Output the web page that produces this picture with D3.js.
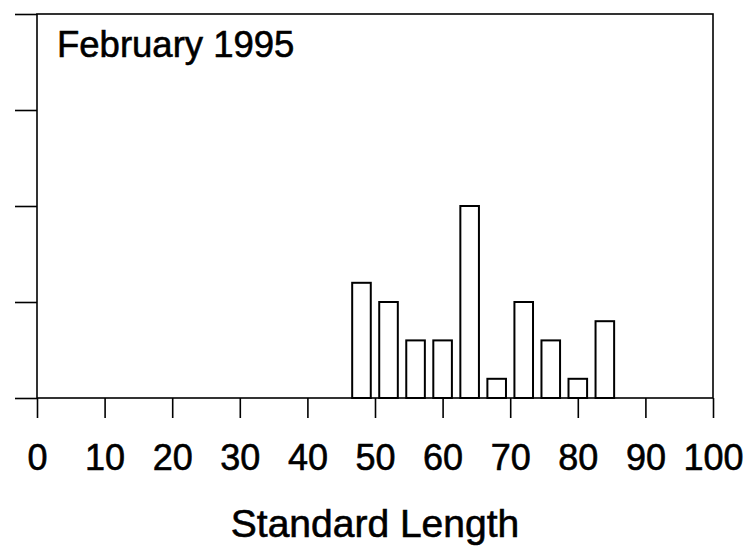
<!DOCTYPE html>
<html>
<head>
<meta charset="utf-8">
<script src="https://cdn.jsdelivr.net/npm/d3@7"></script>
<style>
  html, body { margin: 0; padding: 0; background: #fff; }
  svg { display: block; }
  text { font-family: "Liberation Sans", Arial, sans-serif; fill: #000; stroke: #000; stroke-width: 0.6px; }
</style>
</head>
<body>
<svg id="chart" width="751" height="548"></svg>
<script>
// Length-frequency histogram, February 1995
const lengthBins = [48, 52, 56, 60, 64, 68, 72, 76, 80, 84];
const counts     = [6, 5, 3, 3, 10, 1, 5, 3, 1, 4];
const xTicks     = [0, 10, 20, 30, 40, 50, 60, 70, 80, 90, 100];
const yTicks     = [0, 5, 10, 15, 20];
const title      = "February 1995";
const xTitle     = "Standard Length";

const svg = d3.select("#chart");
const plotL = 37, plotR = 713, plotT = 14, plotB = 398;

const x = d3.scaleLinear().domain([0, 100]).range([plotL, plotR]);
const y = d3.scaleLinear().domain([0, 20]).range([plotB, plotT]);
const barW = x(2.75) - x(0);

// bars
svg.append("g").selectAll("rect")
  .data(lengthBins)
  .join("rect")
  .attr("x", (d) => x(d) - barW / 2)
  .attr("y", (d, i) => y(counts[i]))
  .attr("width", barW)
  .attr("height", (d, i) => y(0) - y(counts[i]))
  .attr("fill", "#fff")
  .attr("stroke", "#000")
  .attr("stroke-width", 2);

// frame
svg.append("rect")
  .attr("x", plotL).attr("y", plotT)
  .attr("width", plotR - plotL).attr("height", plotB - plotT)
  .attr("fill", "none").attr("stroke", "#000").attr("stroke-width", 1.6);

// x axis
const xAxis = svg.append("g")
  .attr("transform", `translate(0,${plotB})`)
  .call(d3.axisBottom(x).tickValues(xTicks).tickSize(20).tickPadding(0).tickSizeOuter(0));
xAxis.select(".domain").remove();
xAxis.selectAll("line").attr("stroke", "#000").attr("stroke-width", 1.6);
xAxis.selectAll("text")
  .attr("y", 72).attr("dy", null)
  .style("font-size", "36px")
  .attr("font-family", "Liberation Sans, Arial, sans-serif")
  .attr("fill", "#000");

// y axis (ticks only, no labels)
const yAxis = svg.append("g")
  .attr("transform", `translate(${plotL},0)`)
  .call(d3.axisLeft(y).tickValues(yTicks).tickSize(22).tickFormat(""));
yAxis.select(".domain").remove();
yAxis.selectAll("line").attr("stroke", "#000").attr("stroke-width", 1.6);

// panel title
svg.append("text")
  .attr("x", 57).attr("y", 57)
  .style("font-size", "36.5px")
  .text(title);

// axis title
svg.append("text")
  .attr("x", x(50)).attr("y", 537)
  .attr("text-anchor", "middle")
  .style("font-size", "39px")
  .text(xTitle);
</script>
</body>
</html>
